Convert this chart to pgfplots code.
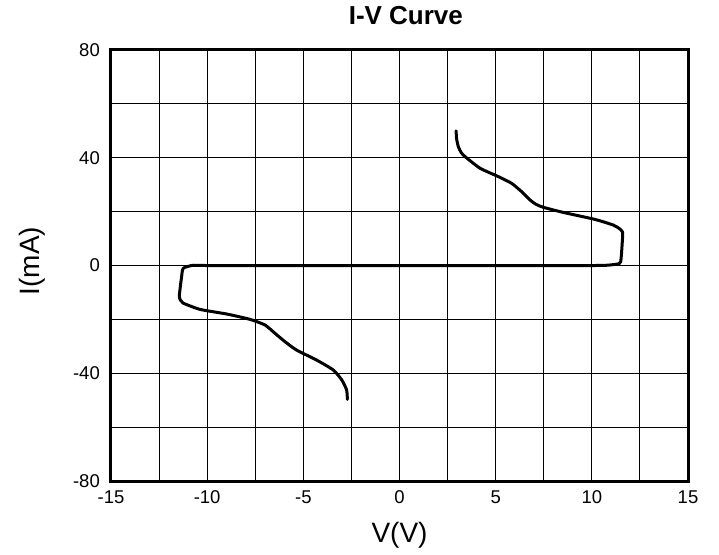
\documentclass[border=0pt]{standalone}
\usepackage{fontspec}
\setmainfont{Liberation Sans}
\usepackage{pgfplots}
\pgfplotsset{compat=1.18}

\begin{document}
\begin{tikzpicture}
    \begin{axis}[
            scale only axis,
            width=577pt, height=431pt,
            xmin=-15, xmax=15,
            ymin=-80, ymax=80,
            xtick={-15,-10,...,15},
            ytick={-80,-40,0,40,80},
            minor xtick={-12.5,-7.5,...,12.5},
            minor ytick={-60,-20,20,60},
            grid=both,
            grid style={black, line width=0.9pt},
            minor grid style={black, line width=0.9pt},
            major tick length=0pt, minor tick length=0pt,
            axis line style={black, line width=3pt},
            /pgf/number format/assume math mode=true,
            ticklabel style={font=\fontsize{18.5}{20}\selectfont, inner sep=0pt},
            xticklabel style={anchor=base, yshift=-22pt},
            yticklabel style={anchor=east, xshift=-11pt},
            title={I-V Curve},
            title style={at={(axis description cs:0.511,1.046)}, anchor=base,
                yshift=0pt, inner sep=0pt, font=\fontsize{26}{28}\selectfont\bfseries},
            xlabel={V(V)},
            xlabel style={at={(axis description cs:0.5,-0.1438)}, anchor=base,
                inner sep=0pt, font=\fontsize{28}{30}\selectfont},
            ylabel={I(mA)},
            ylabel style={at={(axis description cs:-0.1231,0.51)}, anchor=base,
                inner sep=0pt, font=\fontsize{28}{30}\selectfont},
        ]
        % sweep: upper branch, along zero, lower branch
        \addplot[black, line width=3pt, line join=round, line cap=round, smooth, tension=0.35] coordinates {
                (2.94,50.0) (2.97,47.0) (3.06,44.1) (3.20,42.0) (3.41,40.4)
                (4.19,36.1) (5.14,33.0) (5.83,30.5) (6.35,27.4) (6.79,24.3)
                (7.10,22.7) (7.48,21.6) (8.52,19.7) (10.17,17.1) (11.12,15.0)
                (11.45,13.6) (11.59,12.5) (11.60,10.7) (11.50,1.4) (11.29,0.5)
                (10.77,0.1) (10,0) (0,0) (-10,0)
                (-10.72,0.1) (-11.24,-1.0) (-11.33,-4.2) (-11.45,-11.6) (-11.35,-13.2)
                (-11.24,-14.0) (-10.37,-16.3) (-8.99,-18.0) (-7.77,-20.0) (-6.99,-22.1)
                (-6.47,-25.2) (-5.95,-28.3) (-5.35,-31.4) (-4.31,-35.1) (-3.44,-38.8)
                (-3.00,-42.5) (-2.75,-46.2) (-2.71,-49.7)
            };
    \end{axis}
    \path (current axis.south west) ++(-111pt,-73pt) rectangle ([shift={(31pt,50pt)}]current axis.north east);
\end{tikzpicture}
\end{document}
